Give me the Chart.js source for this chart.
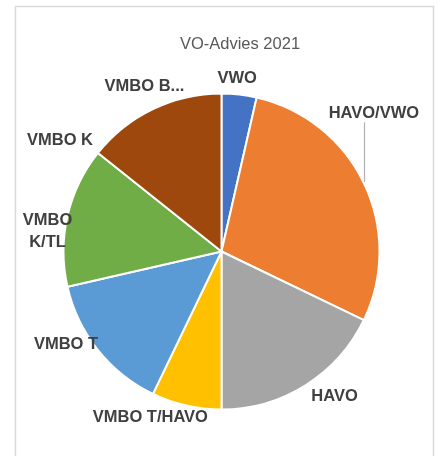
<!DOCTYPE html>
<html>
<head>
<meta charset="utf-8">
<style>
  html, body { margin: 0; padding: 0; background: #ffffff; }
  #wrap { width: 438px; height: 456px; position: relative; }
  canvas { display: block; }
</style>
<script src="https://cdn.jsdelivr.net/npm/chart.js@4/dist/chart.umd.min.js"></script>
</head>
<body>
<div id="wrap"><canvas id="c" width="438" height="456"></canvas></div>
<script>
// ---- data ----
const chartTitle = 'VO-Advies 2021';
const categories = ['VWO', 'HAVO/VWO', 'HAVO', 'VMBO T/HAVO', 'VMBO T', 'VMBO K/TL', 'VMBO K', 'VMBO B...'];
const values = [1, 8, 5, 2, 4, 4, 0, 4];
const sliceColors = ['#4472C4', '#ED7D31', '#A5A5A5', '#FFC000', '#5B9BD5', '#70AD47', '#264478', '#9E480E'];

// ---- label placement (offsets from each slice's outer mid-point) ----
const labelOffsets = [[-2, -16], [10, -69.5], [29, 11], [-36, 12], [-32, -6], [-20, 15], [-38, -12.5], [-8.5, -22.5]];
const labelWrap = [false, false, false, false, false, true, false, false];
const leaderLines = [false, true, false, false, false, false, false, false];

const labelFont = 'bold 16.5px "Liberation Sans", Arial, sans-serif';
const labelColor = '#404040';

const framePlugin = {
  id: 'frame',
  beforeDraw(chart) {
    const ctx = chart.ctx;
    ctx.save();
    ctx.fillStyle = '#ffffff';
    ctx.fillRect(0, 0, chart.width, chart.height);
    ctx.strokeStyle = '#d9d9d9';
    ctx.lineWidth = 1.5;
    ctx.strokeRect(15.5, 6.5, 418, 520);
    ctx.fillStyle = '#595959';
    ctx.font = '16.5px "Liberation Sans", Arial, sans-serif';
    ctx.textAlign = 'center';
    ctx.textBaseline = 'middle';
    ctx.fillText(chartTitle, 240, 44.5);
    ctx.restore();
  }
};

const labelPlugin = {
  id: 'sliceLabels',
  afterDatasetsDraw(chart) {
    const ctx = chart.ctx;
    const meta = chart.getDatasetMeta(0);
    ctx.save();
    ctx.font = labelFont;
    ctx.fillStyle = labelColor;
    ctx.textAlign = 'center';
    ctx.textBaseline = 'middle';
    meta.data.forEach((arc, i) => {
      const p = arc.getProps(['x', 'y', 'startAngle', 'endAngle', 'outerRadius'], true);
      const mid = (p.startAngle + p.endAngle) / 2;
      const ex = p.x + p.outerRadius * Math.cos(mid);
      const ey = p.y + p.outerRadius * Math.sin(mid);
      const lx = ex + labelOffsets[i][0];
      const ly = ey + labelOffsets[i][1];
      const text = categories[i];
      if (labelWrap[i]) {
        const parts = text.split(' ');
        ctx.fillText(parts[0], lx, ly - 10.75);
        ctx.fillText(parts.slice(1).join(' '), lx, ly + 10.75);
      } else {
        ctx.fillText(text, lx, ly);
      }
      if (leaderLines[i]) {
        ctx.save();
        ctx.strokeStyle = '#b0b0b0';
        ctx.lineWidth = 1.2;
        ctx.beginPath();
        ctx.moveTo(Math.round(ex) + 0.5, ly + 9);
        ctx.lineTo(Math.round(ex) + 0.5, ey - 1);
        ctx.stroke();
        ctx.restore();
      }
    });
    ctx.restore();
  }
};

new Chart(document.getElementById('c'), {
  type: 'pie',
  data: {
    labels: categories,
    datasets: [{
      data: values,
      backgroundColor: sliceColors,
      borderColor: '#ffffff',
      borderWidth: 2
    }]
  },
  options: {
    responsive: false,
    animation: false,
    layout: { padding: { left: 62.5, right: 57.5, top: 92.5, bottom: 45.5 } },
    plugins: {
      legend: { display: false },
      title: { display: false },
      tooltip: { enabled: false }
    }
  },
  plugins: [framePlugin, labelPlugin]
});
</script>
</body>
</html>
